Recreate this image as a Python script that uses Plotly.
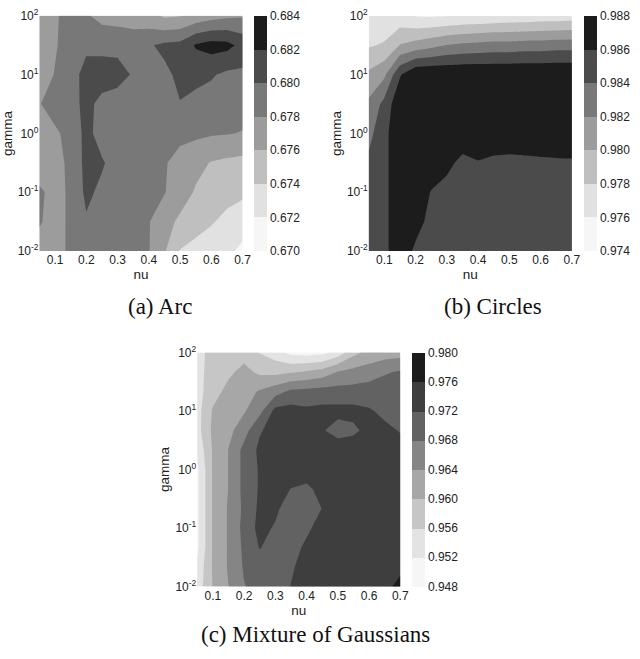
import plotly.graph_objects as go

#%% data: grid of nu (x) and log10(gamma) (y), rows listed from gamma=1e2 down to 1e-2
nu = [0.05, 0.1, 0.15, 0.2, 0.25, 0.3, 0.35, 0.4, 0.45, 0.5, 0.55, 0.6, 0.65, 0.7]
log_gamma = [2.0, 1.5, 1.0, 0.5, 0.0, -0.5, -1.0, -1.5, -2.0]
log_gamma_mog = [2.0, 1.667, 1.333, 1.0, 0.667, 0.333, 0.0, -0.333, -0.667, -1.0, -1.333, -1.667, -2.0]

acc_arc = [
    [0.6770, 0.6778, 0.6786, 0.6782, 0.6774, 0.6772, 0.6770, 0.6766, 0.6757, 0.6759, 0.6766, 0.6772, 0.6776, 0.6778],
    [0.6772, 0.6778, 0.6790, 0.6794, 0.6794, 0.6794, 0.6792, 0.6798, 0.6804, 0.6806, 0.6822, 0.6828, 0.6826, 0.6814],
    [0.6770, 0.6781, 0.6788, 0.6810, 0.6810, 0.6808, 0.6798, 0.6792, 0.6796, 0.6804, 0.6806, 0.6802, 0.6796, 0.6796],
    [0.6779, 0.6788, 0.6792, 0.6806, 0.6794, 0.6790, 0.6788, 0.6788, 0.6790, 0.67994, 0.6794, 0.6792, 0.6790, 0.6788],
    [0.6772, 0.6777, 0.6786, 0.6806, 0.6792, 0.6788, 0.6786, 0.6786, 0.6786, 0.6786, 0.6784, 0.6782, 0.6781, 0.6779],
    [0.6766, 0.6774, 0.6784, 0.6806, 0.6802, 0.6792, 0.6788, 0.6786, 0.6782, 0.6772, 0.6766, 0.6759, 0.6756, 0.6754],
    [0.6784, 0.6772, 0.6784, 0.6804, 0.6796, 0.6790, 0.6786, 0.6784, 0.6781, 0.6770, 0.6758, 0.6758, 0.6748, 0.6744],
    [0.6782, 0.6772, 0.6784, 0.6798, 0.6792, 0.6788, 0.6784, 0.6781, 0.6768, 0.6756, 0.6750, 0.6742, 0.6734, 0.6728],
    [0.6772, 0.6772, 0.6784, 0.6788, 0.6788, 0.6786, 0.6784, 0.6781, 0.6762, 0.6739, 0.6732, 0.6728, 0.6724, 0.6716],
]

acc_circles = [
    [0.9764, 0.9766, 0.9766, 0.9759, 0.9758, 0.9759, 0.9761, 0.9762, 0.9764, 0.9766, 0.9766, 0.9768, 0.9768, 0.9770],
    [0.9778, 0.9782, 0.9801, 0.9808, 0.9814, 0.98204, 0.9824, 0.9826, 0.9828, 0.9828, 0.9830, 0.9830, 0.9832, 0.9832],
    [0.9804, 0.9816, 0.9858, 0.9878, 0.9879, 0.9879, 0.9879, 0.9879, 0.9879, 0.9879, 0.9879, 0.9879, 0.9879, 0.9879],
    [0.9824, 0.9846, 0.9876, 0.9878, 0.9878, 0.9878, 0.9878, 0.9878, 0.9878, 0.9878, 0.9878, 0.9878, 0.9878, 0.9878],
    [0.9834, 0.9854, 0.9876, 0.9876, 0.9876, 0.9874, 0.9874, 0.9872, 0.9872, 0.9872, 0.9872, 0.9872, 0.9872, 0.9872],
    [0.9844, 0.9854, 0.9876, 0.9876, 0.9872, 0.9866, 0.9854, 0.9859, 0.9856, 0.9855, 0.9856, 0.9857, 0.98576, 0.9858],
    [0.9850, 0.9854, 0.9876, 0.9872, 0.9859, 0.9852, 0.9850, 0.9850, 0.9850, 0.9850, 0.9850, 0.9850, 0.9850, 0.9850],
    [0.9852, 0.9854, 0.9876, 0.9870, 0.9852, 0.9850, 0.9850, 0.9850, 0.9850, 0.9850, 0.9850, 0.9850, 0.9850, 0.9850],
    [0.9852, 0.9854, 0.9876, 0.9855, 0.9850, 0.9850, 0.9850, 0.9850, 0.9850, 0.9850, 0.9850, 0.9850, 0.9850, 0.9850],
]

acc_mog = [
    [0.9540, 0.9580, 0.9580, 0.9584, 0.9558, 0.9540, 0.9508, 0.9504, 0.9508, 0.9536, 0.9588, 0.9612, 0.9620, 0.9624],
    [0.9544, 0.9580, 0.9592, 0.9612, 0.9592, 0.9588, 0.9596, 0.9604, 0.9616, 0.9642, 0.9652, 0.9660, 0.9676, 0.9684],
    [0.9544, 0.9584, 0.9612, 0.9624, 0.9644, 0.9664, 0.9688, 0.9692, 0.9696, 0.9696, 0.9696, 0.9700, 0.9700, 0.9700],
    [0.9544, 0.9604, 0.9620, 0.9636, 0.9668, 0.9732, 0.9736, 0.9728, 0.9732, 0.9732, 0.9732, 0.9724, 0.9712, 0.9708],
    [0.9544, 0.9608, 0.9628, 0.9664, 0.9716, 0.9736, 0.9740, 0.9740, 0.9724, 0.9704, 0.9712, 0.9732, 0.9728, 0.9718],
    [0.9528, 0.9604, 0.96408, 0.9692, 0.9728, 0.9740, 0.9744, 0.9744, 0.9744, 0.9744, 0.9744, 0.9744, 0.9740, 0.9732],
    [0.9512, 0.9604, 0.96408, 0.9692, 0.9724, 0.9740, 0.9740, 0.9740, 0.9744, 0.9744, 0.9744, 0.9744, 0.9744, 0.9740],
    [0.9512, 0.9604, 0.96408, 0.9692, 0.9724, 0.9736, 0.97192, 0.9712, 0.9732, 0.9744, 0.9744, 0.9744, 0.9744, 0.9744],
    [0.9512, 0.9604, 0.9644, 0.9688, 0.9728, 0.9728, 0.9700, 0.9696, 0.97208, 0.9736, 0.9744, 0.9744, 0.9744, 0.9744],
    [0.9512, 0.9604, 0.9644, 0.9692, 0.9732, 0.9716, 0.9696, 0.9712, 0.9736, 0.9744, 0.9744, 0.9744, 0.9744, 0.9744],
    [0.9512, 0.9604, 0.9644, 0.9688, 0.9722, 0.9704, 0.9704, 0.9728, 0.9736, 0.9740, 0.9740, 0.9740, 0.9740, 0.9744],
    [0.9528, 0.9604, 0.9644, 0.9684, 0.9700, 0.9704, 0.9716, 0.9732, 0.9736, 0.9740, 0.9740, 0.9740, 0.9740, 0.9748],
    [0.9536, 0.9602, 0.96392, 0.9678, 0.9696, 0.9704, 0.97208, 0.9732, 0.9736, 0.9740, 0.9740, 0.9740, 0.9744, 0.9776],
]

levels_arc = [0.670, 0.672, 0.674, 0.676, 0.678, 0.680, 0.682, 0.684]
levels_circles = [0.974, 0.976, 0.978, 0.980, 0.982, 0.984, 0.986, 0.988]
levels_mog = [0.948, 0.952, 0.956, 0.960, 0.964, 0.968, 0.972, 0.976, 0.980]

grays7 = ['#f6f6f6', '#e1e1e1', '#bfbfbf', '#9c9c9c', '#787878', '#4b4b4b', '#1c1c1c']
grays8 = ['#f6f6f6', '#e3e3e3', '#c6c6c6', '#a7a7a7', '#858585', '#626262', '#3e3e3e', '#1c1c1c']

nu_ticks = [0.1, 0.2, 0.3, 0.4, 0.5, 0.6, 0.7]
gamma_ticks = [-2, -1, 0, 1, 2]
gamma_labels = ['10<sup>-2</sup>', '10<sup>-1</sup>', '10<sup>0</sup>', '10<sup>1</sup>', '10<sup>2</sup>']

W, H = 640, 659
FONT = 'Liberation Sans, Arial, sans-serif'


#%% one contour panel + its colorbar
def panel(z, y, levels, grays, ax, cb_x, dom_y):
    n = len(grays)
    scale = []
    for k, c in enumerate(grays):
        scale += [[k / n, c], [(k + 1) / n, c]]
    return go.Contour(
        x=nu, y=y[::-1], z=z[::-1],
        xaxis='x' + ax, yaxis='y' + ax,
        autocontour=False,
        contours=dict(start=levels[0], end=levels[-1], size=round(levels[1] - levels[0], 4),
                      coloring='fill', showlines=False),
        zmin=levels[0], zmax=levels[-1],
        colorscale=scale,
        line=dict(width=0, smoothing=0),
        hoverinfo='skip',
        colorbar=dict(x=cb_x, xanchor='left', y=(dom_y[0] + dom_y[1]) / 2, yanchor='middle',
                      len=dom_y[1] - dom_y[0], lenmode='fraction',
                      thickness=13, xpad=0, ypad=0, outlinewidth=0,
                      tickvals=levels, ticktext=['%.3f' % v for v in levels], ticks='',
                      tickfont=dict(family=FONT, size=12, color='#222')),
    )


dom_a = [1 - 248 / H, 1 - 7 / H]
dom_c = [1 - 592 / H, 1 - 352 / H]

fig = go.Figure([
    panel(acc_arc, log_gamma, levels_arc, grays7, '', 258 / W, dom_a),
    panel(acc_circles, log_gamma, levels_circles, grays7, '2', 592 / W, dom_a),
    panel(acc_mog, log_gamma_mog, levels_mog, grays8, '3', 418 / W, dom_c),
])

xax = dict(range=[0.05, 0.7], tickvals=nu_ticks, ticktext=[str(t) for t in nu_ticks],
           showgrid=False, zeroline=False, showline=False, ticks='',
           tickfont=dict(family=FONT, size=12, color='#222'),
           title=dict(text='nu', standoff=2, font=dict(family=FONT, size=13.5, color='#222')))
yax = dict(range=[-2, 2], tickvals=gamma_ticks, ticktext=gamma_labels,
           showgrid=False, zeroline=False, showline=False, ticks='',
           tickfont=dict(family=FONT, size=12, color='#222'),
           title=dict(text='gamma', standoff=2, font=dict(family=FONT, size=13.5, color='#222')))

fig.update_layout(
    width=W, height=H, margin=dict(l=0, r=0, t=0, b=0),
    paper_bgcolor='white', plot_bgcolor='white', showlegend=False,
    xaxis=dict(xax, domain=[40 / W, 246 / W], anchor='y'),
    yaxis=dict(yax, domain=dom_a, anchor='x'),
    xaxis2=dict(xax, domain=[374 / W, 580 / W], anchor='y2'),
    yaxis2=dict(yax, domain=dom_a, anchor='x2'),
    xaxis3=dict(xax, domain=[200 / W, 406 / W], anchor='y3'),
    yaxis3=dict(yax, domain=dom_c, anchor='x3'),
)

# captions under each panel
captions = [('(a) Arc', 163, 305), ('(b) Circles', 500, 305), ('(c) Mixture of Gaussians', 320, 641)]
for text, cx, cy in captions:
    fig.add_annotation(text=text, x=cx / W, y=1 - cy / H, xref='paper', yref='paper',
                       showarrow=False, xanchor='center', yanchor='middle',
                       font=dict(family='Liberation Serif, Times New Roman, serif', size=23, color='#111'))

# page body has a default margin; drop it so the figure sits at the window origin
fig.write_html("out.html", config={'displayModeBar': False},
               post_script="document.body.style.margin='0';")
